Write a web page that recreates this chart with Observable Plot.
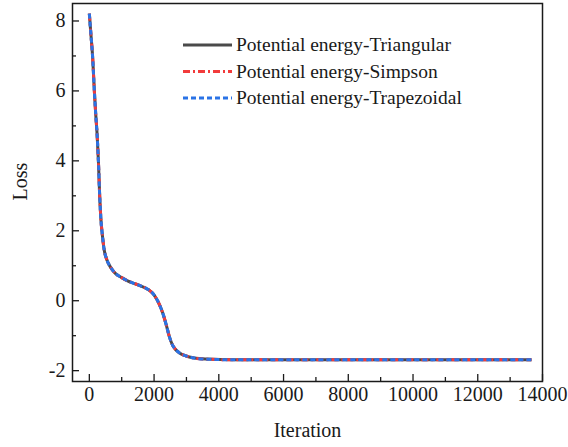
<!DOCTYPE html>
<html>
<head>
<meta charset="utf-8">
<script src="https://cdn.jsdelivr.net/npm/d3@7"></script>
<script src="https://cdn.jsdelivr.net/npm/@observablehq/plot@0.6"></script>
<style>
  html, body { margin: 0; padding: 0; background: #fff; }
  svg { display: block; }
</style>
</head>
<body>
<div id="chart"></div>
<script>
// Iterations (x) and loss values (y)
const iterations = [0, 50, 100, 155, 200, 240, 280, 320, 360, 400, 460, 530, 610, 700, 820, 1000, 1180, 1400, 1600, 1800, 1950, 2060, 2170, 2270, 2370, 2470, 2560, 2650, 2800, 2960, 3240, 3600, 4500, 6000, 8000, 10000, 12000, 13660];
const lossTriangular = [8.21, 7.6, 7.0, 6.0, 5.3, 4.76, 4.0, 3.0, 2.3, 1.9, 1.45, 1.2, 1.03, 0.9, 0.77, 0.66, 0.57, 0.49, 0.42, 0.33, 0.22, 0.08, -0.12, -0.36, -0.67, -1.02, -1.25, -1.38, -1.50, -1.57, -1.64, -1.67, -1.69, -1.69, -1.69, -1.69, -1.69, -1.69];
const lossSimpson = [8.21, 7.6, 7.0, 6.0, 5.3, 4.76, 4.0, 3.0, 2.3, 1.9, 1.45, 1.2, 1.03, 0.9, 0.77, 0.66, 0.57, 0.49, 0.42, 0.33, 0.22, 0.08, -0.12, -0.36, -0.67, -1.02, -1.25, -1.38, -1.50, -1.57, -1.64, -1.67, -1.69, -1.69, -1.69, -1.69, -1.69, -1.69];
const lossTrapezoidal = [8.21, 7.6, 7.0, 6.0, 5.3, 4.76, 4.0, 3.0, 2.3, 1.9, 1.45, 1.2, 1.03, 0.9, 0.77, 0.66, 0.57, 0.49, 0.42, 0.33, 0.22, 0.08, -0.12, -0.36, -0.67, -1.02, -1.25, -1.38, -1.50, -1.57, -1.64, -1.67, -1.69, -1.69, -1.69, -1.69, -1.69, -1.69];

const seriesNames = ["Potential energy-Triangular", "Potential energy-Simpson", "Potential energy-Trapezoidal"];
const seriesColors = ["#4a4a4a", "#f23b3b", "#2a73e6"];
const seriesDash = [null, "7,3,2,3", "5,3"];

const xMajorTicks = [0, 2000, 4000, 6000, 8000, 10000, 12000, 14000];
const xMinorTicks = [1000, 3000, 5000, 7000, 9000, 11000, 13000];
const yMajorTicks = [-2, 0, 2, 4, 6, 8];
const yMinorTicks = [-1, 1, 3, 5, 7];

const seriesValues = [lossTriangular, lossSimpson, lossTrapezoidal];
const tables = seriesValues.map(vals => iterations.map((it, i) => ({x: it, y: vals[i]})));

const font = "'Liberation Serif', 'Times New Roman', serif";
const ink = "#1a1a1a";
const fs = 20;

const W = 568, H = 447, mL = 72, mR = 26, mT = 3, mB = 66;
const fw = W - mL - mR, fh = H - mT - mB;
const majorLen = 7, minorLen = 4;

const svg = Plot.plot({
  width: W,
  height: H,
  marginLeft: mL,
  marginRight: mR,
  marginTop: mT,
  marginBottom: mB,
  style: {fontFamily: font, fontSize: fs + "px", color: ink, background: "#fff"},
  x: {domain: [-520, 14000]},
  y: {domain: [-2.31, 8.5]},
  marks: [
    // curves
    ...tables.map((t, i) => Plot.line(t, {
      x: "x", y: "y", curve: "monotone-x",
      stroke: seriesColors[i], strokeWidth: 3,
      strokeDasharray: seriesDash[i] ?? undefined,
      strokeLinecap: "butt"
    })),
    Plot.frame({stroke: ink, strokeWidth: 1.5}),
    // inward ticks
    Plot.ruleX(xMajorTicks, {x: d => d, insetTop: fh - majorLen, stroke: ink, strokeWidth: 1.3}),
    Plot.ruleX(xMinorTicks, {x: d => d, insetTop: fh - minorLen, stroke: ink, strokeWidth: 1.3}),
    Plot.ruleY(yMajorTicks, {y: d => d, insetRight: fw - majorLen, stroke: ink, strokeWidth: 1.3}),
    Plot.ruleY(yMinorTicks, {y: d => d, insetRight: fw - minorLen, stroke: ink, strokeWidth: 1.3}),
    // tick labels
    Plot.axisX({ticks: xMajorTicks, tickSize: 0, tickPadding: 5, tickFormat: d => String(d), label: null, fill: ink, fontSize: fs}),
    Plot.axisY({ticks: yMajorTicks, tickSize: 0, tickPadding: 7, tickFormat: d => String(d), label: null, fill: ink, fontSize: fs}),
    // axis titles
    Plot.text(["Iteration"], {frameAnchor: "bottom", text: d => d, dy: 49, lineAnchor: "middle", fill: ink, fontSize: fs}),
    Plot.text(["Loss"], {frameAnchor: "left", text: d => d, dx: -52, dy: -11, rotate: -90, lineAnchor: "middle", textAnchor: "middle", fill: ink, fontSize: fs})
  ]
});

// legend
const sel = d3.select(svg);
const lg = sel.append("g").attr("font-family", font).attr("font-size", 19.5).attr("fill", ink).attr("text-anchor", "start");
const rowsY = [45, 71.5, 98];
seriesNames.forEach((name, i) => {
  const ln = lg.append("line")
    .attr("x1", 183).attr("x2", 232).attr("y1", rowsY[i]).attr("y2", rowsY[i])
    .attr("stroke", seriesColors[i]).attr("stroke-width", 3);
  if (seriesDash[i]) ln.attr("stroke-dasharray", seriesDash[i]);
  lg.append("text").attr("x", 236).attr("y", rowsY[i]).attr("dy", "0.33em").attr("text-anchor", "start").text(name);
});

document.getElementById("chart").appendChild(svg);
</script>
</body>
</html>
